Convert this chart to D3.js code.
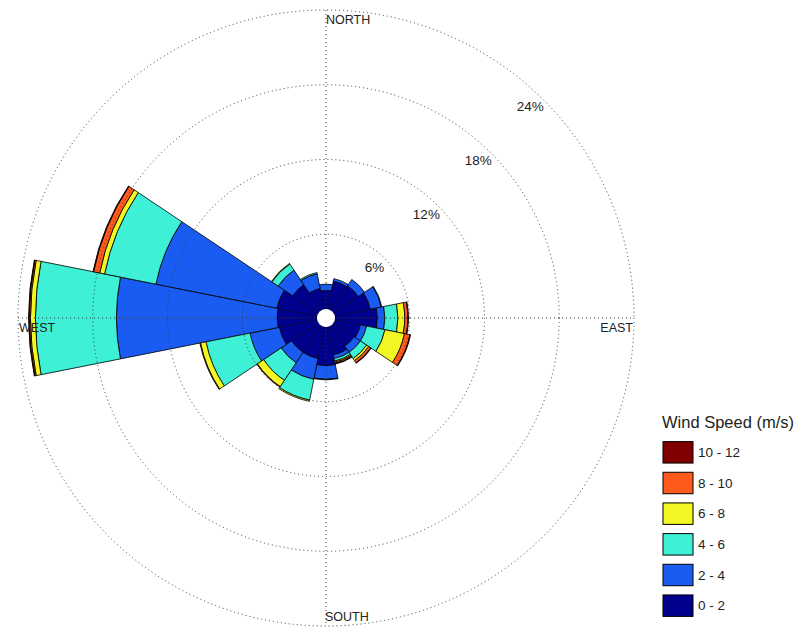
<!DOCTYPE html>
<html><head><meta charset="utf-8">
<script src="https://cdn.jsdelivr.net/npm/d3@7"></script>
<style>body{margin:0;background:#fff;} svg{display:block;font-family:Arial,"Liberation Sans",sans-serif;}</style>
</head><body>
<svg id="chart" width="805" height="632"></svg>
<script>
// ---- data (percent of time, per direction, per speed class) ----
const directions = ["N","NNE","NE","ENE","E","ESE","SE","SSE","S","SSW","SW","WSW","W","WNW","NW","NNW"];
const speedBins  = ["0 - 2","2 - 4","4 - 6","6 - 8","8 - 10","10 - 12"];
const speed0to2   = [1.5, 2.3, 2.4, 2.9, 3.4, 2.1, 2.0, 2.3, 3.1, 2.6, 2.6, 3.1, 3.2, 3.3, 2.5, 1.7];
const speed2to4   = [0.5, 0.2, 0.6, 0.9, 0.6, 0.5, 0.6, 0.3, 1.1, 1.7, 1.0, 2.4, 12.9, 9.9, 1.4, 1.2];
const speed4to6   = [0,   0,   0,   0.05,1.05,1.5, 0.6, 0.2, 0.05,1.7, 1.7, 3.6, 6.5, 4.2, 0.6, 0.1];
const speed6to8   = [0,   0,   0,   0,   0.55,1.6, 0.2, 0.1, 0,   0.1, 0.6, 0.45,0.4, 0.4, 0.05,0];
const speed8to10  = [0,   0,   0,   0,   0.25,0.45,0.2, 0.1, 0,   0,   0.05,0.05,0.1, 0.5, 0,   0];
const speed10to12 = [0,   0,   0,   0,   0.05,0.05,0.05,0.05,0,   0,   0,   0,   0.05,0.05,0,   0];
const ringTicks  = [6, 12, 18, 24];
const ringLabels = ["6%", "12%", "18%", "24%"];
const compassLabels = ["NORTH", "EAST", "SOUTH", "WEST"];
const legendTitle = "Wind Speed (m/s)";

// ---- styles ----
const colors = ["#00008c", "#1a5cf2", "#3ef0d6", "#f2f622", "#ff5a1c", "#800000"];
const series = [speed0to2, speed2to4, speed4to6, speed6to8, speed8to10, speed10to12];

const svg = d3.select("#chart");
const cx = 326, cy = 318;
const r = d3.scaleLinear().domain([0, 24]).range([9, 308]);
const step = 2 * Math.PI / directions.length;
const angle = d3.scaleBand().domain(directions).range([-step / 2, 2 * Math.PI - step / 2]);

const rows = directions.map((d, i) => {
  const o = { dir: d };
  speedBins.forEach((b, j) => o[b] = series[j][i]);
  return o;
});
const stacked = d3.stack().keys(speedBins)(rows);
const arc = d3.arc();

const g = svg.append("g").attr("transform", `translate(${cx},${cy})`);

// bars
stacked.forEach((layer, j) => {
  g.append("g").selectAll("path")
    .data(layer.filter(d => d[1] - d[0] > 0))
    .join("path")
    .attr("d", d => arc({
      innerRadius: r(d[0]), outerRadius: r(d[1]),
      startAngle: angle(d.data.dir), endAngle: angle(d.data.dir) + angle.bandwidth()
    }))
    .attr("fill", colors[j])
    .attr("stroke", j === 0 ? "#000046" : "#000")
    .attr("stroke-width", 0.8)
    .attr("stroke-linejoin", "round");
});

// grid (dotted, drawn over the bars)
const grid = g.append("g").attr("fill", "none").attr("stroke", "#3a3a3a")
  .attr("stroke-width", 1).attr("stroke-dasharray", "1 3");
grid.selectAll("circle").data(ringTicks).join("circle").attr("r", d => r(d));
const R = r(ringTicks[ringTicks.length - 1]);
grid.append("line").attr("x1", 0).attr("x2", 0).attr("y1", -R).attr("y2", R);
grid.append("line").attr("x1", -R).attr("x2", R).attr("y1", 0).attr("y2", 0);

// center hole
g.append("circle").attr("r", r(0)).attr("fill", "#fff");

// ring labels
const la = 44 * Math.PI / 180;
g.selectAll("text.ring").data(ringTicks).join("text")
  .attr("class", "ring")
  .attr("x", (d) => (r(d) - 14) * Math.sin(la))
  .attr("y", (d) => -(r(d) - 14) * Math.cos(la))
  .attr("text-anchor", "middle").attr("dominant-baseline", "central")
  .attr("font-size", 13.5).attr("fill", "#222")
  .text((d, i) => ringLabels[i]);

// compass labels
const cl = [
  { t: compassLabels[0], x: 0, y: -R + 14, a: "start" },
  { t: compassLabels[1], x: R - 1, y: 14, a: "end" },
  { t: compassLabels[2], x: -1, y: R - 5, a: "start" },
  { t: compassLabels[3], x: -R + 1, y: 14, a: "start" }
];
g.selectAll("text.compass").data(cl).join("text")
  .attr("class", "compass")
  .attr("x", d => d.x).attr("y", d => d.y)
  .attr("text-anchor", d => d.a)
  .attr("font-size", 12.5).attr("fill", "#222")
  .text(d => d.t);

// legend
const lg = svg.append("g").attr("transform", "translate(662,0)");
lg.append("text").attr("x", 0).attr("y", 428).attr("font-size", 16.5).attr("fill", "#222").text(legendTitle);
const order = d3.range(speedBins.length).reverse();
const ly = d3.scaleBand().domain(order).range([437, 621]).paddingInner(0.3).paddingOuter(0.15);
lg.selectAll("rect").data(order).join("rect")
  .attr("x", 1).attr("y", d => ly(d)).attr("width", 30).attr("height", ly.bandwidth())
  .attr("fill", d => colors[d]).attr("stroke", "#000").attr("stroke-width", 1);
lg.selectAll("text.lab").data(order).join("text")
  .attr("class", "lab")
  .attr("x", 36).attr("y", d => ly(d) + ly.bandwidth() / 2)
  .attr("dominant-baseline", "central")
  .attr("font-size", 13.5).attr("fill", "#222")
  .text(d => speedBins[d]);
</script>
</body></html>
